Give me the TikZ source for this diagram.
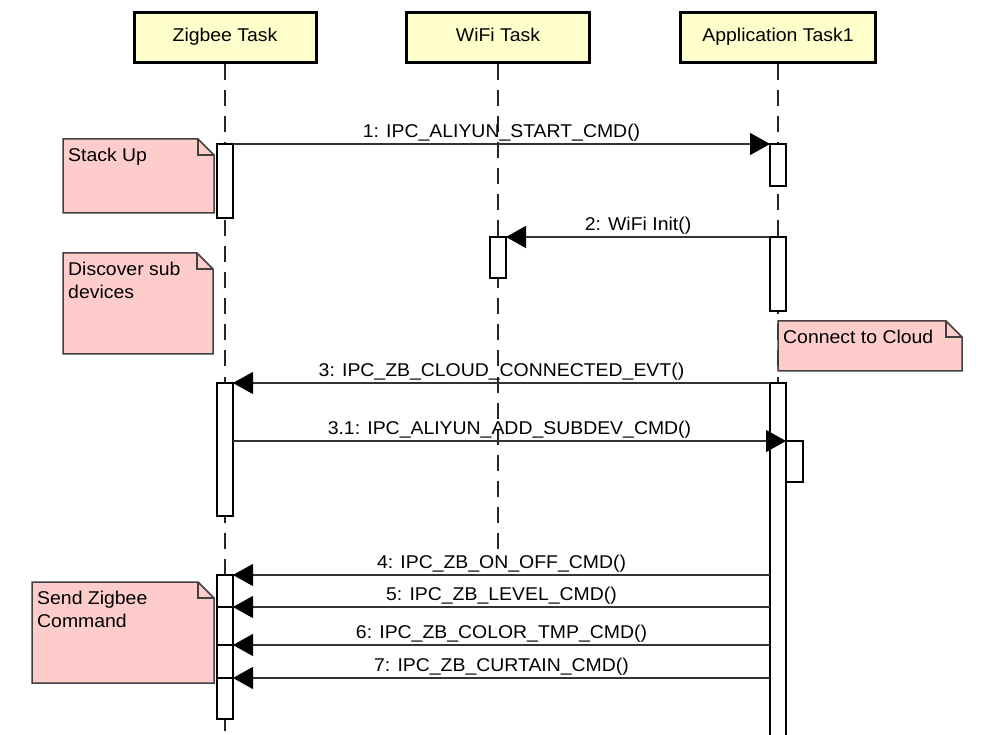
\documentclass[tikz,border=0pt]{standalone}
\usepackage{fontspec}
\setmainfont{Liberation Sans}[FakeStretch=1.05]
\usetikzlibrary{arrows.meta,calc}
\definecolor{hdrfill}{HTML}{FFFFCC}
\definecolor{notefill}{HTML}{FFCCCC}
\definecolor{noteline}{HTML}{404040}
\definecolor{msgline}{HTML}{333333}
\newcommand\notefold[1]{%
  \filldraw[notepath] (#1.north west) -- ([xshift=-16pt]#1.north east) -- ([yshift=-16pt]#1.north east) -- (#1.south east) -- (#1.south west) -- cycle;
  \draw[notepath,fill=none] ([xshift=-16pt]#1.north east) |- ([yshift=-16pt]#1.north east);}
\begin{document}
\begin{tikzpicture}[x=1pt,y=-1pt,
  every node/.style={font=\fontsize{18.5}{23.5}\selectfont},
  header/.style={draw=black,line width=3pt,fill=hdrfill,minimum height=50pt,inner sep=0pt,text height=13.25pt,text depth=6pt},
  lifeline/.style={draw=black!85,line width=2pt,dash pattern=on 16pt off 10pt},
  actbox/.style={draw=black,line width=2pt,fill=white,minimum width=16pt,inner sep=0pt,outer sep=0pt},
  notearea/.style={inner sep=0pt,outer sep=0pt,anchor=north west},
  notepath/.style={draw=noteline,fill=notefill,line width=1.5pt,line join=miter},
  notetext/.style={anchor=north west,inner sep=0pt,align=left},
  msg/.style={draw=msgline,line width=1.3pt,-{Triangle[length=20pt,width=22pt,color=black,fill=black]}},
  actline/.style={draw=black,line width=2pt},
  msglabel/.style={anchor=south,inner sep=2.5pt}]
\useasboundingbox[fill=white] (0,0) rectangle (999,735);

% headers
\node[header,minimum width=182pt] (zt) at (225,38) {Zigbee Task};
\node[header,minimum width=183pt] (wt) at (498,38) {WiFi Task};
\node[header,minimum width=195pt] (at) at (778,38) {Application Task1};

% lifelines
\coordinate (zend) at (225,740);
\coordinate (wend) at (498,552);
\coordinate (aend) at (778,740);
\draw[lifeline] (zt.south) -- (zend);
\draw[lifeline] (wt.south) -- (wend);
\draw[lifeline] (at.south) -- (aend);

% notes
\node[notearea,minimum width=151pt,minimum height=74pt] (n1) at (63,139) {};
\notefold{n1}
\node[notetext] (n1t) at (68,147.75) {Stack Up};

\node[notearea,minimum width=150pt,minimum height=101pt] (n2) at (63,253) {};
\notefold{n2}
\node[notetext] (n2t) at (68,261.75) {Discover sub\\devices};

\node[notearea,minimum width=184pt,minimum height=50pt] (n3) at (778,321) {};
\notefold{n3}
\node[notetext] (n3t) at (783,329.75) {Connect to Cloud};

\node[notearea,minimum width=182pt,minimum height=101pt] (n4) at (32,582) {};
\notefold{n4}
\node[notetext] (n4t) at (37,590.75) {Send Zigbee\\Command};

% activation boxes
\node[actbox,minimum height=74pt] (za1) at (225,181) {};
\node[actbox,minimum height=42pt] (aa1) at (778,165) {};
\node[actbox,minimum height=41pt] (wa1) at (498,257.5) {};
\node[actbox,minimum height=74pt] (aa2) at (778,274) {};
\node[actbox,minimum height=133pt] (za2) at (225,449.5) {};
\node[actbox,minimum height=370pt] (aa3) at (778,568) {};
\node[actbox,minimum width=17pt,minimum height=41pt] (aan) at (794.5,461.5) {};
\node[actbox,minimum height=144pt] (za3) at (225,647) {};

\coordinate (c5) at (0,607);
\coordinate (c6) at (0,645);
\coordinate (c7) at (0,678);
\draw[actline] (za3.west |- c5) -- (za3.east |- c5);
\draw[actline] (za3.west |- c6) -- (za3.east |- c6);
\draw[actline] (za3.west |- c7) -- (za3.east |- c7);

% messages
\draw[msg] (za1.north east) -- node[msglabel] {1: IPC\_ALIYUN\_START\_CMD()} (aa1.north west);
\draw[msg] (aa2.north west) -- node[msglabel] {2: WiFi Init()} (wa1.north east);
\draw[msg] (aa3.north west) -- node[msglabel] {3: IPC\_ZB\_CLOUD\_CONNECTED\_EVT()} (za2.north east);
\draw[msg] (za2.east |- aan.north) -- node[msglabel] {3.1: IPC\_ALIYUN\_ADD\_SUBDEV\_CMD()} (aan.north west);
\draw[msg] (aa3.west |- za3.north) -- node[msglabel] {4: IPC\_ZB\_ON\_OFF\_CMD()} (za3.north east);
\draw[msg] (aa3.west |- c5) -- node[msglabel] {5: IPC\_ZB\_LEVEL\_CMD()} (za3.east |- c5);
\draw[msg] (aa3.west |- c6) -- node[msglabel] {6: IPC\_ZB\_COLOR\_TMP\_CMD()} (za3.east |- c6);
\draw[msg] (aa3.west |- c7) -- node[msglabel] {7: IPC\_ZB\_CURTAIN\_CMD()} (za3.east |- c7);
\end{tikzpicture}
\end{document}
